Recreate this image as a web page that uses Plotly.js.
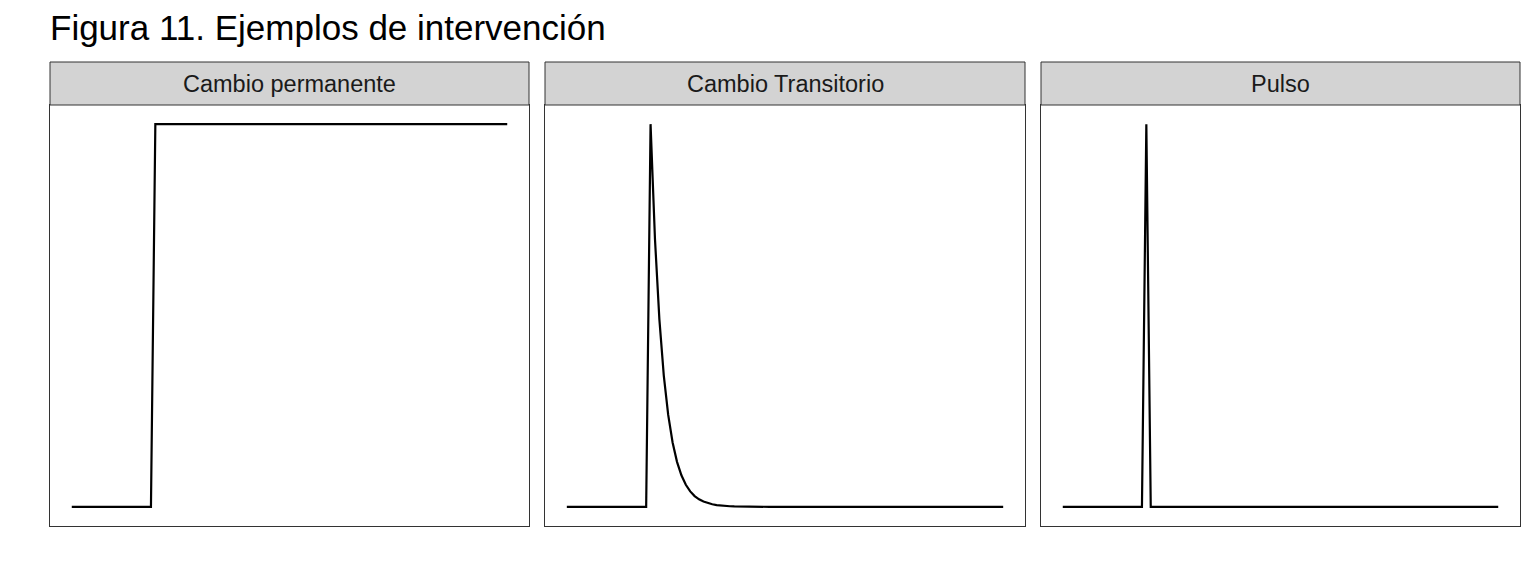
<!DOCTYPE html>
<html>
<head>
<meta charset="utf-8">
<script src="https://cdn.plot.ly/plotly-3.0.1.min.js"></script>
<style>html,body{margin:0;padding:0;background:#fff;}#chart{width:1536px;height:576px;}</style>
</head>
<body>
<div id="chart"></div>
<script>
const tituloGrafico = "Figura 11. Ejemplos de intervención";
const paneles = ["Cambio permanente", "Cambio Transitorio", "Pulso"];

const periodo = [
  1,2,3,4,5,6,7,8,9,10,
  11,12,13,14,15,16,17,18,19,20,
  21,22,23,24,25,26,27,28,29,30,
  31,32,33,34,35,36,37,38,39,40,
  41,42,43,44,45,46,47,48,49,50,
  51,52,53,54,55,56,57,58,59,60,
  61,62,63,64,65,66,67,68,69,70,
  71,72,73,74,75,76,77,78,79,80,
  81,82,83,84,85,86,87,88,89,90,
  91,92,93,94,95,96,97,98,99,100
];

const permanente = [
  0,0,0,0,0,0,0,0,0,0,
  0,0,0,0,0,0,0,0,0,1,
  1,1,1,1,1,1,1,1,1,1,
  1,1,1,1,1,1,1,1,1,1,
  1,1,1,1,1,1,1,1,1,1,
  1,1,1,1,1,1,1,1,1,1,
  1,1,1,1,1,1,1,1,1,1,
  1,1,1,1,1,1,1,1,1,1,
  1,1,1,1,1,1,1,1,1,1,
  1,1,1,1,1,1,1,1,1,1
];

const transitorio = [
  0,0,0,0,0,0,0,0,0,0,
  0,0,0,0,0,0,0,0,0,1,
  0.7,0.49,0.343,0.2401,0.1681,0.1176,0.0824,0.0576,0.0404,0.0282,
  0.0198,0.0138,0.0097,0.0068,0.0047,0.0033,0.0023,0.0016,0.0011,0.0008,
  0,0,0,0,0,0,0,0,0,0,
  0,0,0,0,0,0,0,0,0,0,
  0,0,0,0,0,0,0,0,0,0,
  0,0,0,0,0,0,0,0,0,0,
  0,0,0,0,0,0,0,0,0,0,
  0,0,0,0,0,0,0,0,0,0
];

const pulso = [
  0,0,0,0,0,0,0,0,0,0,
  0,0,0,0,0,0,0,0,0,1,
  0,0,0,0,0,0,0,0,0,0,
  0,0,0,0,0,0,0,0,0,0,
  0,0,0,0,0,0,0,0,0,0,
  0,0,0,0,0,0,0,0,0,0,
  0,0,0,0,0,0,0,0,0,0,
  0,0,0,0,0,0,0,0,0,0,
  0,0,0,0,0,0,0,0,0,0,
  0,0,0,0,0,0,0,0,0,0
];

const series = [permanente, transitorio, pulso];

const W = 1536, H = 576;
const panelPx = [[50, 529], [545, 1025], [1041, 1520]];
const panelTop = 105, panelBottom = 526, stripTop = 62;

const xmin = Math.min(...periodo), xmax = Math.max(...periodo);
const xpad = 0.05 * (xmax - xmin);
const xr = [xmin - xpad, xmax + xpad];
const yr = [-0.05, 1.05];

const traces = [];
const layout = {
  width: W, height: H,
  margin: {l: 0, r: 0, t: 0, b: 0},
  paper_bgcolor: "#ffffff",
  plot_bgcolor: "#ffffff",
  showlegend: false,
  font: {family: "Liberation Sans, Arial, sans-serif", color: "#1a1a1a"},
  title: {
    text: tituloGrafico,
    x: 50 / W, xref: "paper", xanchor: "left",
    y: 1 - 28 / H, yref: "container", yanchor: "middle",
    font: {family: "Liberation Sans, Arial, sans-serif", size: 35, color: "#000000"}
  },
  shapes: [],
  annotations: []
};

const yDomain = [1 - panelBottom / H, 1 - panelTop / H];

series.forEach((s, i) => {
  const n = i + 1;
  const xa = n === 1 ? "x" : "x" + n;
  const ya = n === 1 ? "y" : "y" + n;
  traces.push({
    x: periodo, y: s, type: "scatter", mode: "lines",
    xaxis: xa, yaxis: ya,
    line: {color: "#000000", width: 2.2},
    hoverinfo: "skip"
  });
  const xd = [panelPx[i][0] / W, panelPx[i][1] / W];
  const axCommon = {
    showgrid: false, zeroline: false, showticklabels: false, ticks: "",
    showline: true, mirror: true, linecolor: "#333333", linewidth: 1,
    fixedrange: true
  };
  layout["xaxis" + (n === 1 ? "" : n)] = Object.assign({}, axCommon, {
    domain: xd, range: xr, anchor: ya
  });
  layout["yaxis" + (n === 1 ? "" : n)] = Object.assign({}, axCommon, {
    domain: yDomain, range: yr, anchor: xa
  });
  layout.shapes.push({
    type: "rect", xref: "paper", yref: "paper",
    x0: xd[0], x1: xd[1],
    y0: 1 - panelTop / H, y1: 1 - stripTop / H,
    fillcolor: "#D3D3D3", line: {color: "#333333", width: 1},
    layer: "above"
  });
  layout.annotations.push({
    text: paneles[i], xref: "paper", yref: "paper",
    x: (xd[0] + xd[1]) / 2, y: 1 - ((stripTop + panelTop) / 2) / H,
    xanchor: "center", yanchor: "middle", showarrow: false,
    font: {family: "Liberation Sans, Arial, sans-serif", size: 23.5, color: "#1a1a1a"}
  });
});

Plotly.newPlot("chart", traces, layout, {displayModeBar: false, staticPlot: true});
</script>
</body>
</html>
